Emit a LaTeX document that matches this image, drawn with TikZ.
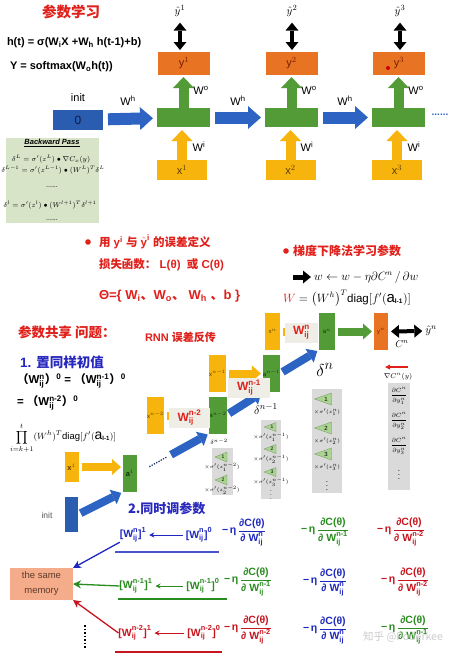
\documentclass[tikz,border=0pt]{standalone}
\usepackage{amsmath}
\usepackage{fontspec}
\setmainfont{Liberation Sans}
\newfontfamily\cjk{Noto Sans CJK SC}
\usetikzlibrary{arrows.meta}
\definecolor{cred}{RGB}{224,32,27}
\definecolor{cblue}{RGB}{40,40,190}
\definecolor{boxgreen}{RGB}{82,155,55}
\definecolor{boxorange}{RGB}{232,115,35}
\definecolor{boxyellow}{RGB}{246,180,12}
\definecolor{boxblue}{RGB}{42,93,176}
\definecolor{arrblue}{RGB}{45,100,195}
\definecolor{bpgreen}{RGB}{215,228,200}
\definecolor{colgray}{RGB}{218,218,218}
\definecolor{labgray}{RGB}{238,238,230}
\definecolor{trigreen}{RGB}{170,212,145}
\definecolor{memfill}{RGB}{245,172,138}
\definecolor{memtext}{RGB}{95,60,45}
\definecolor{otext}{RGB}{120,30,0}
\definecolor{ytext}{RGB}{90,60,0}
\definecolor{gtext}{RGB}{20,50,10}
\definecolor{btext}{RGB}{10,25,70}
\definecolor{rb}{RGB}{30,40,190}
\definecolor{rg}{RGB}{40,140,30}
\definecolor{rr}{RGB}{200,20,30}
\newcommand\zh[1]{{\cjk #1}}
\newcommand\fs[1]{\fontsize{#1}{#1}\selectfont}
\newcommand\Wij[1]{\ensuremath{\textbf{W}_{\textbf{ij}}^{\textbf{#1}}}}
\newcommand\Wb[2]{\ensuremath{\textbf{[W}_{\textbf{ij}}^{\textbf{#1}}\textbf{]}^{\textbf{#2}}}}
\newcommand\gterm[1]{\textbf{−\,η}\,\ensuremath{\dfrac{\textbf{∂C(θ)}}{\textbf{∂ W}_{\textbf{ij}}^{\textbf{#1}}}}}
\tikzset{
  gbox/.style={fill=boxgreen, minimum width=53pt, minimum height=19pt},
  obox/.style={fill=boxorange, minimum width=52pt, minimum height=23pt, text=otext, font=\fs{11}},
  ybox/.style={fill=boxyellow, minimum width=50pt, minimum height=20pt, text=ytext, font=\fs{11}},
  barr/.style={draw=arrblue, line width=12pt, -{Triangle[width=23pt,length=13pt,line width=0pt]}, shorten <=5pt, shorten >=4pt},
  garr/.style={draw=boxgreen, line width=10pt, -{Triangle[width=21pt,length=11pt,line width=0pt]}, shorten >=2pt},
  yarr/.style={draw=boxyellow, line width=10pt, -{Triangle[width=21pt,length=11pt,line width=0pt]}, shorten >=3pt},
  dbl/.style={draw=black, line width=4.5pt, {Triangle[width=13pt,length=8pt,line width=0pt]}-{Triangle[width=13pt,length=8pt,line width=0pt]}, shorten <=6pt, shorten >=2pt},
  bar/.style={minimum width=15pt, minimum height=37pt, font=\fs{6}},
  ys/.style={draw=boxyellow, line width=8pt, -{Triangle[width=16pt,length=9pt,line width=0pt]}, shorten <=3pt, shorten >=2pt},
  bs/.style={draw=arrblue, line width=8pt, -{Triangle[width=16pt,length=9pt,line width=0pt]}, shorten <=3pt, shorten >=2pt},
  gs/.style={draw=boxgreen, line width=8pt, -{Triangle[width=16pt,length=9pt,line width=0pt]}, shorten <=3pt, shorten >=2pt},
  wl/.style={fill=labgray, text=cred, font=\bfseries\fs{12}, minimum height=20pt},
  col/.style={fill=colgray},
  tri/.style={fill=trigreen, draw=trigreen!70!black, line width=0.3pt},
  rowt/.style={font=\bfseries\fs{10.5}},
  term/.style={anchor=west, font=\fs{10.5}},
  small/.style={draw, line width=1pt, -{Stealth[length=5pt,width=5pt]}, shorten <=3pt, shorten >=3pt},
  mema/.style={line width=1.3pt, -{Stealth[length=8pt,width=8pt]}}
}
\begin{document}
\begin{tikzpicture}[x=1pt,y=-1pt, every node/.style={inner sep=0pt, outer sep=0pt}]
\useasboundingbox (0,0) rectangle (458,657);
\fill[white] (0,0) rectangle (458,657);

% ---------- top: title and formulas
\node[font=\cjk\bfseries\fs{14.5}, text=cred] (title) at (71,12) {参数学习};
\node[anchor=west, font=\bfseries\fs{11}] (eqh) at (7,43) {h(t) = σ(W$_{\textbf{i}}$X +W$_{\textbf{h}}$ h(t-1)+b)};
\node[anchor=west, font=\bfseries\fs{11}] (eqy) at (10,67) {Y = softmax(W$_{\textbf{o}}$h(t))};

% ---------- top: RNN unrolled
\node[fill=boxblue, minimum width=50pt, minimum height=20pt, text=btext, font=\fs{12}] (b0) at (78,120) {0};
\node[font=\fs{11}] (init) at (78,98) {init};
\node[gbox] (g1) at (183.5,117.5) {};
\node[gbox] (g2) at (291.5,117.5) {};
\node[gbox] (g3) at (398.5,117.5) {};
\node[obox] (o1) at (184,63.5) {y$^1$};
\node[obox] (o2) at (291.5,63.5) {y$^2$};
\node[obox] (o3) at (399,63.5) {y$^3$};
\fill[red!80!black] (388,68) circle (2);
\node[ybox] (x1) at (182,170) {x$^1$};
\node[ybox] (x2) at (290.5,170) {x$^2$};
\node[ybox] (x3) at (397,170) {x$^3$};
\node[font=\fs{11}] (yh1) at (180,11) {$\hat{y}^1$};
\node[font=\fs{11}] (yh2) at (292,11) {$\hat{y}^2$};
\node[font=\fs{11}] (yh3) at (400,11) {$\hat{y}^3$};
\draw[barr] (b0) -- (g1);
\draw[barr] (g1) -- (g2);
\draw[barr] (g2) -- (g3);
\foreach \i in {1,2,3}{
  \draw[garr] (g\i.north) -- (g\i.north |- o\i.south);
  \draw[yarr] (x\i.north) -- (x\i.north |- g\i.south);
  \draw[dbl] (yh\i.south) -- (yh\i.south |- o\i.north);
}
\node[font=\fs{11}] (wh1) at (128,101) {W$^{\text{h}}$};
\node[font=\fs{11}] (wh2) at (238,101) {W$^{\text{h}}$};
\node[font=\fs{11}] (wh3) at (345,101) {W$^{\text{h}}$};
\node[font=\fs{11}] (wo1) at (201,90) {W$^{\text{o}}$};
\node[font=\fs{11}] (wo2) at (309,90) {W$^{\text{o}}$};
\node[font=\fs{11}] (wo3) at (416,90) {W$^{\text{o}}$};
\node[font=\fs{11}] (wi1) at (199,147) {W$^{\text{i}}$};
\node[font=\fs{11}] (wi2) at (307,147) {W$^{\text{i}}$};
\node[font=\fs{11}] (wi3) at (414,147) {W$^{\text{i}}$};
\node[font=\bfseries\fs{10}, text=arrblue] (dots) at (440,115) {......};

% ---------- backward pass box
\node[fill=bpgreen, minimum width=93pt, minimum height=85pt] (bp) at (52.5,180.5) {};
\node[font=\bfseries\itshape\fs{7.5}] (bpt) at (52,143) {\underline{Backward Pass}};
\node[font=\fs{7.2}] (bp1) at (51,159) {$\delta^L=\sigma'(z^L)\bullet\nabla C_x(y)$};
\node[font=\fs{7}] (bp2) at (53,170) {$\delta^{L-1}=\sigma'(z^{L-1})\bullet(W^L)^T\delta^L$};
\node[font=\fs{7}] (bp3) at (52,187) {......};
\node[font=\fs{7.2}] (bp4) at (50,205) {$\delta^l=\sigma'(z^l)\bullet(W^{l+1})^T\delta^{l+1}$};
\node[font=\fs{7}] (bp5) at (52,220) {......};

% ---------- middle texts
\fill[cred] (88,242) circle (2.8);
\node[anchor=west, font=\bfseries\fs{11.5}, text=cred] (t1) at (99,242) {\zh{用} y$^{\textbf{i}}$ \zh{与} $\hat{\textbf{y}}^{\textbf{i}}$ \zh{的误差定义}};
\node[anchor=west, font=\bfseries\fs{11.5}, text=cred] (t2) at (99,265) {\zh{损失函数：} L(θ)\ \ \zh{或} C(θ)};
\node[anchor=west, font=\bfseries\fs{13}, text=cred] (t3) at (99,296) {Θ=\{ W$_{\textbf{i}}$\zh{、}W$_{\textbf{o}}$\zh{、} W$_{\textbf{h}}$ \zh{、}b \}};
\fill[cred] (286,251) circle (2.8);
\node[anchor=west, font=\cjk\bfseries\fs{12}, text=cred] (t4) at (293,251) {梯度下降法学习参数};
\node[anchor=west, font=\fs{11.5}] (wupd) at (314,277) {$w \leftarrow w-\eta\partial C^n\,/\,\partial w$};
\draw[line width=5pt, -{Triangle[width=13pt,length=8pt,line width=0pt]}] ([xshift=-21pt]wupd.west) -- ([xshift=-3pt]wupd.west);
\node[anchor=west, font=\fs{11.5}] (wdef) at (283,298) {\textcolor{cred}{$W$} $=\bigl(W^h\bigr)^T\mathrm{diag}[f'(\text{\fs{15}a}_{\text{\bfseries\fs{6.5}l-1}})]$};

\node[anchor=west, font=\cjk\bfseries\fs{13.5}, text=cred] (t5) at (18,332) {参数共享 问题：};
\node[anchor=west, font=\bfseries\fs{11}, text=cred] (t6) at (145,337) {RNN \zh{误差反传}};
\node[anchor=west, font=\bfseries\fs{13.5}, text=cblue] (t7) at (20,362) {1. \zh{置同样初值}};
\node[anchor=west, font=\bfseries\fs{11.5}] (t8) at (17,381) {\zh{（}\Wij{n}\zh{）}$^{\textbf{0}}$ = \zh{（}\Wij{n-1}\zh{）}$^{\textbf{0}}$};
\node[anchor=west, font=\bfseries\fs{11.5}] (t9) at (17,403) {= \zh{（}\Wij{n-2}\zh{）}$^{\textbf{0}}$};
\node[anchor=west, font=\fs{9.5}] (t10) at (10,438) {$\displaystyle\prod_{i=k+1}^{t}(W^h)^T\mathrm{diag}[f'(\text{\fs{14}a}_{\text{\bfseries\fs{6}l-1}})]$};

% ---------- chain diagram
\node[col, minimum width=21pt, minimum height=47pt] (col2) at (222.5,471.5) {};
\node[col, minimum width=20pt, minimum height=79pt] (col1) at (271,459.5) {};
\node[col, minimum width=30pt, minimum height=104pt] (col0) at (327,441) {};
\node[col, minimum width=22pt, minimum height=107pt] (colC) at (399,436.5) {};

\node[bar, fill=boxyellow, minimum width=14pt, minimum height=30pt, text=ytext, font=\bfseries\fs{7.5}] (cx1) at (71.5,467) {x$^1$};
\node[bar, fill=boxblue, minimum width=13pt, minimum height=35pt] (cinit) at (71.5,514.5) {};
\node[font=\fs{8.5}, text=black!65] (cinitl) at (47,515) {init};
\node[bar, fill=boxgreen, minimum width=14pt, text=gtext, font=\bfseries\fs{7.5}] (ca1) at (130,473.5) {a$^1$};
\node[bar, fill=boxyellow, text=ytext] (cxn2) at (155.5,415.5) {x$^{n-2}$};
\node[bar, fill=boxgreen, text=gtext] (can2) at (218,415) {a$^{n-2}$};
\node[bar, fill=boxyellow, text=ytext] (cxn1) at (217.5,373.5) {x$^{n-1}$};
\node[bar, fill=boxgreen, minimum width=17pt, text=gtext] (can1) at (271.5,373.5) {a$^{n-1}$};
\node[bar, fill=boxyellow, text=ytext] (cxn) at (272.5,331.5) {x$^{n}$};
\node[bar, fill=boxgreen, minimum width=16pt, text=gtext] (can) at (327,331.5) {a$^{n}$};
\node[bar, fill=boxorange, minimum width=14pt, text=otext] (cyn) at (381,331.5) {y$^{n}$};

\draw[ys] (cx1.east) -- (cx1.east -| ca1.west);
\draw[bs] (cinit.east) -- (ca1.south west);
\path (ca1.east) -- (can2.south west) coordinate[pos=0.17] (dd1) coordinate[pos=0.42] (dd2) coordinate[pos=0.47] (dd3);
\draw[arrblue!60!black, line width=1.3pt, dash pattern=on 1.3pt off 1.3pt] (dd1) -- (dd2);
\draw[bs, shorten <=0pt] (dd3) -- (can2.south west);
\draw[ys] (cxn2.east) -- (cxn2.east -| can2.west);
\draw[ys] (cxn1.east) -- (cxn1.east -| can1.west);
\draw[ys] (cxn.east) -- (cxn.east -| can.west);
\draw[bs] (can2.east) -- (can1.south west);
\draw[bs] (can1.east) -- (can.south west);
\draw[gs] (can.east) -- (cyn.west);

\node[wl, minimum width=41pt] (Ln2) at (189.5,418) {\Wij{n-2}};
\node[wl, minimum width=42pt] (Ln1) at (249,388) {\Wij{n-1}};
\node[wl, minimum width=33pt] (Ln) at (301.5,332.5) {\Wij{n}};

\node[font=\fs{11}] (yhn) at (431,331) {$\hat{y}^n$};
\draw[dbl, line width=4pt, shorten <=3pt, shorten >=3pt] (cyn.east) -- (yhn.west);
\node[font=\fs{10}] (cn) at (402,344) {$C^n$};
\node[font=\fs{7.5}] (gradc) at (398,377) {$\nabla C^n(y)$};
\coordinate (ra) at (408,367);
\coordinate (rbb) at (385,367);
\draw[draw=cred, line width=1.4pt, -{Triangle[width=5pt,length=5pt,line width=0pt]}] (ra) -- (rbb);

\node[font=\fs{6}] (dn2) at (219,442) {$\delta^{n-2}$};
\node[font=\fs{13}] (dn1) at (266,409) {$\delta^{n-1}$};
\node[font=\fs{19}] (dn0) at (325,370) {$\delta^{n}$};

\foreach \yy/\k in {399/1,428/2,454/3}{
  \filldraw[tri] (314.5,\yy) -- (331.5,\yy-6) -- (331.5,\yy+6) -- cycle;
  \node[font=\fs{6}] (ta\k) at (326,\yy) {\k};
  \node[font=\fs{4.5}] (tb\k) at (327,\yy+13) {$\times\sigma'(z^n_{\k})$};
}
\node[font=\fs{8}] (tvd0) at (327,483) {$\vdots$};
\foreach \yy/\k in {427/1,449/2,472/3}{
  \filldraw[tri] (264,\yy) -- (276,\yy-4.5) -- (276,\yy+4.5) -- cycle;
  \node[font=\fs{5}] (tc\k) at (272,\yy) {\k};
  \node[font=\fs{3.8}] (td\k) at (271,\yy+10) {$\times\sigma'(z^{n-1}_{\k})$};
}
\node[font=\fs{6}] (tvd1) at (271,492) {$\vdots$};
\foreach \yy/\k in {457/1,480/2}{
  \filldraw[tri] (215,\yy) -- (227,\yy-5) -- (227,\yy+5) -- cycle;
  \node[font=\fs{5}] (te\k) at (223,\yy) {\k};
  \node[font=\fs{3.8}] (tf\k) at (222,\yy+10) {$\times\sigma'(z^{n-2}_{\k})$};
}
\foreach \yy/\k in {396/1,421/2,446/3}{
  \node[font=\fs{6.5}] (pc\k) at (399,\yy) {$\dfrac{\partial C^n}{\partial y^n_{\k}}$};
}
\node[font=\fs{8}] (pcv) at (399,472) {$\vdots$};

% ---------- bottom
\node[anchor=west, font=\cjk\bfseries\fs{13}, text=cblue] (t11) at (128,508) {2.同时调参数};

\node[rowt, text=rb] (r1a) at (133,535) {\Wb{n}{1}};
\node[rowt, text=rb] (r1b) at (199,535) {\Wb{n}{0}};
\draw[small, rb] (r1b) -- (r1a);
\node[term, text=rb] (r1c) at (222,532) {\gterm{n}};
\node[term, text=rg] (r1d) at (301,532) {\gterm{n-1}};
\node[term, text=rr] (r1e) at (377,532) {\gterm{n-2}};
\coordinate (u1l) at (115,552); \coordinate (u1r) at (219,552);
\draw[rb!80, line width=1.1pt] (u1l) -- (u1r);

\node[rowt, text=rg] (r2a) at (136,586) {\Wb{n-1}{1}};
\node[rowt, text=rg] (r2b) at (203,586) {\Wb{n-1}{0}};
\draw[small, rg] (r2b) -- (r2a);
\node[term, text=rg] (r2c) at (224,582) {\gterm{n-1}};
\node[term, text=rb] (r2d) at (303,582) {\gterm{n}};
\node[term, text=rr] (r2e) at (381,582) {\gterm{n-2}};
\coordinate (u2l) at (118,599); \coordinate (u2r) at (227,599);
\draw[rg, line width=1.1pt] (u2l) -- (u2r);

\node[rowt, text=rr] (r3a) at (135,633) {\Wb{n-2}{1}};
\node[rowt, text=rr] (r3b) at (204,633) {\Wb{n-2}{0}};
\draw[small, rr] (r3b) -- (r3a);
\node[term, text=rr] (r3c) at (224,630) {\gterm{n-2}};
\node[term, text=rb] (r3d) at (303,630) {\gterm{n}};
\node[term, text=rg] (r3e) at (381,630) {\gterm{n-1}};
\coordinate (u3l) at (115,652); \coordinate (u3r) at (222,652);
\draw[rr, line width=1.1pt] (u3l) -- (u3r);

\node[fill=memfill, minimum width=63pt, minimum height=32pt, align=center, font=\fontsize{9.5}{15}\selectfont, text=memtext] (mem) at (41.5,584) {the same\\memory};
\draw[mema, rb] (r1a.south west) -- (mem.north east);
\draw[mema, rg] (r2a.west) -- (mem.east);
\draw[mema, rr] (r3a.west) -- (mem.south east);
\coordinate (vd1) at (85,625); \coordinate (vd2) at (85,648);
\draw[line width=1.8pt, dash pattern=on 1.5pt off 2pt] (vd1) -- (vd2);

\node[text=gray!40, font=\cjk\fs{10.5}] (wm) at (403,637) {知乎 @Poderkee};
\end{tikzpicture}
\end{document}
